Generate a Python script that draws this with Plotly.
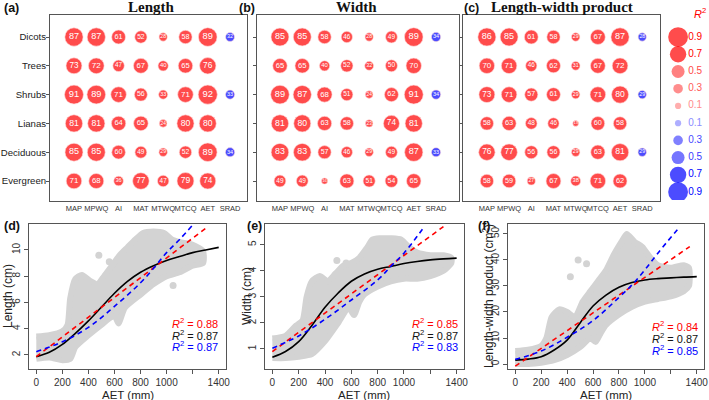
import plotly.graph_objects as go

# ---------------- data ----------------
categories = ["Dicots", "Trees", "Shrubs", "Lianas", "Deciduous", "Evergreen"]
climate_vars = ["MAP", "MPWQ", "AI", "MAT", "MTWQ", "MTCQ", "AET", "SRAD"]

# R2 x 100 ; negative = negative relationship (blue)
length_r2 = [
    [87, 87, 61, 52, 28, 58, 89, -32],
    [73, 72, 47, 67, 40, 65, 76, None],
    [91, 89, 71, 56, 33, 71, 92, -33],
    [81, 81, 64, 65, 24, 80, 80, None],
    [85, 85, 60, 49, 29, 52, 89, -34],
    [71, 68, 36, 77, 47, 79, 74, None],
]
width_r2 = [
    [85, 85, 58, 46, 28, 49, 89, -34],
    [65, 65, 40, 52, 32, 50, 70, None],
    [89, 87, 68, 51, 24, 62, 91, -34],
    [81, 80, 63, 58, 23, 74, 81, None],
    [83, 83, 57, 46, 29, 49, 87, -33],
    [49, 49, 16, 63, 51, 54, 65, None],
]
product_r2 = [
    [86, 85, 61, 58, 29, 67, 87, -28],
    [70, 71, 46, 62, 31, 67, 72, None],
    [73, 71, 57, 61, 29, 71, 80, -29],
    [58, 63, 48, 46, 13, 60, 58, None],
    [76, 77, 56, 56, 29, 63, 81, -29],
    [58, 59, 27, 67, 38, 71, 62, None],
]

legend_vals = [0.9, 0.7, 0.5, 0.3, 0.1, -0.1, -0.3, -0.5, -0.7, -0.9]
legend_colors = ["#ff0000", "#ff0000", "#ff4a4a", "#ff5c5c", "#ff8c8c",
                 "#8c8cff", "#4a4aff", "#3a3aff", "#0000ff", "#0000ff"]

aet_ticks = [0, 200, 400, 600, 800, 1000, 1200, 1400]
aet_ticktext = ["0", "200", "400", "600", "800", "1000", "", "1400"]

# ---- panel (d) Length ----
d_cloud_top_x = [0, 100, 200, 240, 260, 300, 350, 420, 470, 520, 580, 640, 700, 760, 820, 900, 980, 1040, 1100, 1200, 1280]
d_cloud_top_y = [3.4, 3.5, 3.8, 4.3, 6.3, 7.8, 8.1, 7.6, 7.4, 8.0, 8.8, 9.6, 10.2, 10.8, 11.3, 11.4, 11.3, 10.8, 10.6, 10.4, 9.9]
d_cloud_bot_x = [0, 100, 200, 260, 300, 400, 500, 600, 630, 680, 800, 900, 1000, 1100, 1200, 1280]
d_cloud_bot_y = [1.7, 1.8, 1.6, 1.7, 2.6, 3.5, 4.3, 5.0, 4.4, 5.6, 6.6, 7.4, 8.0, 8.3, 8.8, 9.0]
d_out_x = [480, 560, 1050]
d_out_y = [9.6, 9.1, 7.3]
d_black_x = [0, 100, 200, 300, 400, 500, 600, 700, 800, 900, 1000, 1100, 1200, 1300, 1400]
d_black_y = [1.87, 2.2, 2.8, 3.65, 4.6, 5.65, 6.7, 7.6, 8.3, 8.8, 9.2, 9.5, 9.8, 10.0, 10.2]
d_red_x = [0, 1320]
d_red_y = [1.87, 11.8]
d_blue_x = [0, 200, 400, 600, 800, 900, 1000, 1100, 1200]
d_blue_y = [2.25, 3.0, 4.1, 5.7, 7.5, 8.6, 9.8, 10.8, 11.9]
d_r2 = ["0.88", "0.87", "0.87"]

# ---- panel (e) Width ----
e_cloud_top_x = [0, 100, 180, 230, 260, 300, 360, 420, 480, 540, 600, 660, 720, 760, 820, 900, 980, 1040, 1100, 1200, 1300, 1360]
e_cloud_top_y = [1.4, 1.5, 1.9, 2.1, 3.0, 3.6, 3.8, 3.6, 3.9, 4.2, 4.3, 4.5, 4.9, 5.2, 5.25, 5.25, 5.2, 4.9, 4.7, 4.6, 4.6, 4.5]
e_cloud_bot_x = [0, 100, 200, 300, 400, 500, 580, 620, 660, 700, 800, 900, 1000, 1100, 1200, 1300, 1360]
e_cloud_bot_y = [0.65, 0.65, 0.7, 0.8, 1.3, 2.0, 2.6, 2.3, 2.8, 3.1, 3.4, 3.6, 3.7, 3.7, 3.8, 4.0, 4.3]
e_out_x = [490, 560]
e_out_y = [4.4, 4.3]
e_black_x = [0, 100, 200, 300, 400, 500, 600, 700, 800, 900, 1000, 1100, 1200, 1300, 1400]
e_black_y = [0.68, 0.9, 1.28, 1.9, 2.6, 3.15, 3.6, 3.88, 4.06, 4.17, 4.28, 4.36, 4.42, 4.46, 4.49]
e_red_x = [0, 1300]
e_red_y = [0.9, 5.7]
e_blue_x = [0, 200, 400, 600, 800, 900, 1000, 1140]
e_blue_y = [1.03, 1.5, 2.14, 2.88, 3.65, 4.17, 4.68, 5.6]
e_r2 = ["0.85", "0.87", "0.83"]

# ---- panel (f) Length-width product ----
f_cloud_top_x = [0, 100, 200, 240, 280, 340, 400, 460, 520, 580, 640, 700, 760, 820, 860, 920, 980, 1040, 1100, 1200, 1300, 1340]
f_cloud_top_y = [5, 5.5, 7, 10, 18, 21, 20, 18, 24, 28, 32, 36, 42, 47, 50, 47, 45, 41, 38, 37, 38, 37]
f_cloud_bot_x = [0, 100, 200, 300, 400, 500, 580, 620, 660, 700, 800, 900, 1000, 1100, 1200, 1300, 1340]
f_cloud_bot_y = [0, 0, 0.5, 1.5, 3.5, 6.5, 10, 8.5, 12, 15, 19, 22, 24, 25, 26, 28, 30]
f_out_x = [425, 485, 550]
f_out_y = [33.5, 40, 38.5]
f_black_x = [0, 100, 200, 300, 400, 500, 600, 700, 800, 900, 1000, 1100, 1200, 1300, 1400]
f_black_y = [1.5, 1.9, 2.8, 5.4, 9.2, 15.8, 22.3, 26.5, 29.5, 31.3, 32.3, 32.8, 33.1, 33.4, 33.6]
f_red_x = [0, 1346]
f_red_y = [-0.8, 45.1]
f_blue_x = [0, 200, 400, 600, 800, 900, 1000, 1100, 1270]
f_blue_y = [1.8, 5.0, 10.3, 16.7, 25.6, 30.4, 36.2, 42.6, 52.8]
f_r2 = ["0.84", "0.87", "0.85"]

# ---------------- figure ----------------
W, H = 709, 400
fig = go.Figure()


def px_x(a, b):
    return [a / W, b / W]


def px_y(top, bottom):
    return [1 - bottom / H, 1 - top / H]


def bubble_size(v):
    return 3.5 + 0.17 * abs(v)


def add_bubbles(matrix, xa, ya):
    xs, ys, sz, col, txt, fs = [], [], [], [], [], []
    for i, row in enumerate(matrix):
        for j, v in enumerate(row):
            if v is None:
                continue
            xs.append(j)
            ys.append(i)
            sz.append(bubble_size(v))
            col.append("#ff0000" if v > 0 else "#0000ff")
            txt.append(str(abs(v)))
            fs.append(3.2 + 0.068 * abs(v))
    fig.add_trace(go.Scatter(
        x=xs, y=ys, mode="markers+text", text=txt,
        textposition="middle center",
        textfont=dict(color="white", size=fs, family="Liberation Sans"),
        marker=dict(size=sz, color=col, line=dict(width=0.6, color="#ffd0d0")),
        xaxis=xa, yaxis=ya, showlegend=False, hoverinfo="skip"))


add_bubbles(length_r2, "x", "y")
add_bubbles(width_r2, "x2", "y2")
add_bubbles(product_r2, "x3", "y3")

# legend (size key)
fig.add_trace(go.Scatter(
    x=[0] * len(legend_vals), y=list(range(len(legend_vals))), mode="markers",
    marker=dict(size=[bubble_size(v * 100) + 1 for v in legend_vals], color=legend_colors, line=dict(width=0)),
    xaxis="x7", yaxis="y7", showlegend=False, hoverinfo="skip"))
fig.add_trace(go.Scatter(
    x=[0.75] * len(legend_vals), y=list(range(len(legend_vals))), mode="text",
    text=[f"{abs(v):.1f}" for v in legend_vals], textposition="middle right",
    textfont=dict(color=legend_colors, size=10, family="Liberation Sans"),
    xaxis="x7", yaxis="y7", showlegend=False, hoverinfo="skip"))

GRAY = "#d3d3d3"


def add_scatter_panel(xa, ya, tx, ty, bx, by, ox, oy, kx, ky, rx, ry, blx, bly):
    fig.add_trace(go.Scatter(
        x=tx + bx[::-1], y=ty + by[::-1], mode="lines", fill="toself",
        fillcolor=GRAY, line=dict(color=GRAY, width=6, shape="spline", smoothing=0.6),
        xaxis=xa, yaxis=ya, showlegend=False, hoverinfo="skip"))
    fig.add_trace(go.Scatter(
        x=ox, y=oy, mode="markers", marker=dict(size=7, color=GRAY),
        xaxis=xa, yaxis=ya, showlegend=False, hoverinfo="skip"))
    fig.add_trace(go.Scatter(
        x=kx, y=ky, mode="lines", line=dict(color="black", width=1.6, shape="spline"),
        xaxis=xa, yaxis=ya, showlegend=False, hoverinfo="skip"))
    fig.add_trace(go.Scatter(
        x=rx, y=ry, mode="lines", line=dict(color="#ff0000", width=1.6, dash="5px,4px"),
        xaxis=xa, yaxis=ya, showlegend=False, hoverinfo="skip"))
    fig.add_trace(go.Scatter(
        x=blx, y=bly, mode="lines", line=dict(color="#0000ff", width=1.6, dash="5px,4px", shape="spline"),
        xaxis=xa, yaxis=ya, showlegend=False, hoverinfo="skip"))


add_scatter_panel("x4", "y4", d_cloud_top_x, d_cloud_top_y, d_cloud_bot_x, d_cloud_bot_y,
                  d_out_x, d_out_y, d_black_x, d_black_y, d_red_x, d_red_y, d_blue_x, d_blue_y)
add_scatter_panel("x5", "y5", e_cloud_top_x, e_cloud_top_y, e_cloud_bot_x, e_cloud_bot_y,
                  e_out_x, e_out_y, e_black_x, e_black_y, e_red_x, e_red_y, e_blue_x, e_blue_y)
add_scatter_panel("x6", "y6", f_cloud_top_x, f_cloud_top_y, f_cloud_bot_x, f_cloud_bot_y,
                  f_out_x, f_out_y, f_black_x, f_black_y, f_red_x, f_red_y, f_blue_x, f_blue_y)

FRAME = "#555555"
TICKF = dict(family="Liberation Sans", size=10, color="#333333")

# bubble panel axes
bubble_yrange = [5.694, -0.764]
bub_x_common = dict(tickmode="array", tickvals=list(range(8)), ticktext=climate_vars,
                    showgrid=False, zeroline=False, showline=True, mirror=True,
                    linecolor=FRAME, linewidth=1, ticks="", ticklen=0, tickangle=0,
                    automargin=False,
                    tickfont=dict(family="Liberation Sans", size=7.5, color="#333333"))
bub_y_common = dict(tickmode="array", tickvals=list(range(6)),
                    showgrid=False, zeroline=False, showline=True, mirror=True,
                    linecolor=FRAME, linewidth=1, ticks="outside", ticklen=3, tickcolor=FRAME,
                    automargin=False, range=bubble_yrange, domain=px_y(15, 201))

layout = dict(
    width=W, height=H, margin=dict(l=0, r=0, t=0, b=0, autoexpand=False),
    paper_bgcolor="white", plot_bgcolor="white", showlegend=False,
    xaxis=dict(bub_x_common, domain=px_x(50, 247), range=[-1.076, 7.76]),
    yaxis=dict(bub_y_common, ticktext=categories, ticklabelstandoff=-2,
               tickfont=dict(family="Liberation Sans", size=9.6, color="#222222")),
    xaxis2=dict(bub_x_common, domain=px_x(257, 459), range=[-1.03, 8.03]),
    yaxis2=dict(bub_y_common, ticktext=[""] * 6),
    xaxis3=dict(bub_x_common, domain=px_x(463, 660), range=[-1.076, 7.8]),
    yaxis3=dict(bub_y_common, ticktext=[""] * 6),
    xaxis7=dict(domain=px_x(668, 709), range=[-0.75, 2.3], visible=False, automargin=False),
    yaxis7=dict(domain=px_y(0, 200), range=[9.46, -2.15], visible=False, automargin=False),
)

sc_x_common = dict(tickmode="array", tickvals=aet_ticks, ticktext=aet_ticktext,
                   range=[-56, 1456], showgrid=False, zeroline=False, showline=True,
                   mirror=True, linecolor=FRAME, linewidth=1, ticks="outside",
                   ticklen=4, tickcolor=FRAME, tickfont=TICKF, tickangle=0, automargin=False)
sc_y_common = dict(showgrid=False, zeroline=False, showline=True, mirror=True,
                   linecolor=FRAME, linewidth=1, ticks="outside", ticklen=4,
                   tickcolor=FRAME, tickfont=TICKF, tickangle=-90, automargin=False,
                   domain=px_y(224, 369))
layout.update(
    xaxis4=dict(sc_x_common, domain=px_x(29, 226), anchor="y4"),
    yaxis4=dict(sc_y_common, range=[0.93, 11.98], tickvals=[2, 4, 6, 8, 10], anchor="x4"),
    xaxis5=dict(sc_x_common, domain=px_x(265, 464), anchor="y5"),
    yaxis5=dict(sc_y_common, range=[0.23, 5.8], tickvals=[1, 2, 3, 4, 5], anchor="x5"),
    xaxis6=dict(sc_x_common, domain=px_x(508, 704), anchor="y6"),
    yaxis6=dict(sc_y_common, range=[-1.9, 53.8], tickvals=[0, 10, 20, 30, 40, 50], anchor="x6"),
)
layout["xaxis"]["anchor"] = "y"
layout["yaxis"]["anchor"] = "x"
layout["xaxis2"]["anchor"] = "y2"
layout["yaxis2"]["anchor"] = "x2"
layout["xaxis3"]["anchor"] = "y3"
layout["yaxis3"]["anchor"] = "x3"
layout["xaxis7"]["anchor"] = "y7"
layout["yaxis7"]["anchor"] = "x7"
fig.update_layout(**layout)

anns = []


def ann(text, x, y, size, color="#111111", xanchor="center", yanchor="middle",
        family="Liberation Sans", angle=0):
    anns.append(dict(text=text, x=x / W, y=1 - y / H, xref="paper", yref="paper",
                     showarrow=False, xanchor=xanchor, yanchor=yanchor, textangle=angle,
                     font=dict(size=size, color=color, family=family)))


# titles
ann("<b>Length</b>", 151, 7, 15, family="Liberation Serif")
ann("<b>Width</b>", 356, 7, 15, family="Liberation Serif")
ann("<b>Length-width product</b>", 562, 7, 15, family="Liberation Serif")
# panel labels
for lab, x, y in [("(a)", 2, 8), ("(b)", 237, 8), ("(c)", 462, 8),
                  ("(d)", 2, 226), ("(e)", 245, 226), ("(f)", 476, 226)]:
    ann("<b>" + lab + "</b>", x, y, 12.5, xanchor="left")
# legend title
ann("<i>R</i><sup>2</sup>", 708, 13, 11, color="#ff0000", xanchor="right")
# axis titles
for xc in [128, 364, 606]:
    ann("AET (mm)", xc, 395, 11.5, color="#222222")
ann("Length (cm)", 8, 296, 12, color="#222222", angle=-90)
ann("Width (cm)", 247, 296, 12, color="#222222", angle=-90)
ann("Length-width product (cm<sup>2</sup>)", 488, 296, 12, color="#222222", angle=-90)
# R2 of the fits
for (xl, ys, vals) in [(170, [323, 335, 346], d_r2), (410, [323, 335, 346], e_r2), (650, [326, 338, 350], f_r2)]:
    for yv, v, c in zip(ys, vals, ["#ff0000", "#111111", "#0000ff"]):
        ann(f"<i>R</i><sup>2</sup> = {v}", xl, yv, 11, color=c, xanchor="left")

fig.update_layout(annotations=anns)
fig.write_html("out.html", config={"displayModeBar": False},
               post_script="document.body.style.margin='0';document.body.style.padding='0';document.body.style.overflow='hidden';")
